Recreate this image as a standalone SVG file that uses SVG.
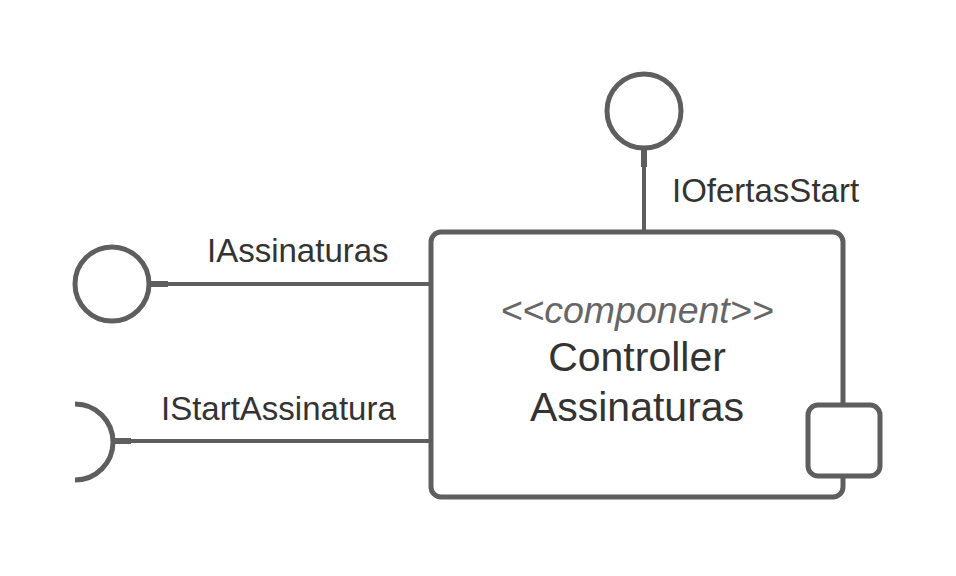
<svg xmlns="http://www.w3.org/2000/svg" width="956" height="576" viewBox="0 0 956 576">
<style>
.ln{stroke:#5e5e5e;fill:none;stroke-width:4}
.stub{stroke:#5e5e5e;fill:none;stroke-width:6}
.shape{stroke:#5e5e5e;fill:#ffffff;stroke-width:5}
.lbl{font-family:"Liberation Sans",Arial,sans-serif;font-size:33px;fill:#333333}
.main{font-family:"Liberation Sans",Arial,sans-serif;font-size:41px;fill:#333333;text-anchor:middle}
.st{font-family:"Liberation Sans",Arial,sans-serif;font-size:37.5px;font-style:italic;fill:#666666;text-anchor:middle}
</style>
<rect width="956" height="576" fill="#ffffff"/>
<g id="connectors">
<line class="ln" x1="166" y1="284" x2="431" y2="284"/>
<line class="stub" x1="149" y1="284" x2="168" y2="284"/>
<line class="ln" x1="129" y1="441" x2="431" y2="441"/>
<line class="stub" x1="112" y1="441" x2="131" y2="441"/>
<line class="ln" x1="644" y1="165" x2="644" y2="232"/>
<line class="stub" x1="644" y1="148" x2="644" y2="167"/>
</g>
<g id="component">
<rect class="shape" x="431" y="232" width="412" height="265" rx="10"/>
<text class="st" x="637" y="323">&lt;&lt;component&gt;&gt;</text>
<text class="main" x="637" y="371">Controller</text>
<text class="main" x="637" y="421">Assinaturas</text>
</g>
<g id="port">
<rect class="shape" x="808" y="405" width="72" height="71" rx="10"/>
</g>
<g id="IAssinaturas">
<circle class="shape" cx="112" cy="284" r="37"/>
<text class="lbl" x="207" y="262">IAssinaturas</text>
</g>
<g id="IStartAssinatura">
<path class="shape" d="M75,404 A38,38 0 0 1 75,480" style="fill:none"/>
<text class="lbl" x="161" y="420">IStartAssinatura</text>
</g>
<g id="IOfertasStart">
<circle class="shape" cx="644" cy="111" r="37"/>
<text class="lbl" x="672" y="202">IOfertasStart</text>
</g>
</svg>
